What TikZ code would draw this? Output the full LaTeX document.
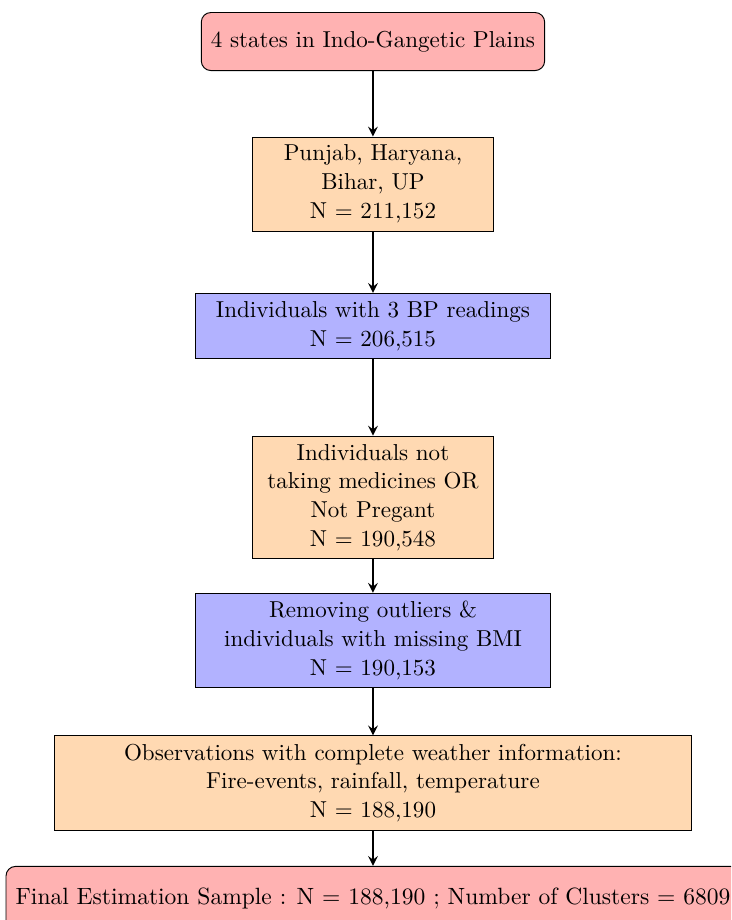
\documentclass[tikz,border=0pt]{standalone}
\usetikzlibrary{shapes,arrows,arrows.meta}
\usetikzlibrary{positioning}
\tikzset{every node/.style={font=\fontsize{9.6}{12}\selectfont},
terminal/.style={rectangle, rounded corners, minimum height=0.85cm, inner sep=4pt, draw=black, fill=red!30},
filterbox/.style={rectangle, draw=black, fill=orange!30, align=center},
checkbox/.style={rectangle, draw=black, fill=blue!30, align=center, minimum width=5.2cm}
}

\begin{document}
\begin{tikzpicture}[> = stealth]
       \clip (-5.461,0) rectangle (5.242,-13.47);
       \node[terminal] (s_0) at (0, -0.608) {4 states in Indo-Gangetic Plains};
       \node[filterbox, minimum width=3.54cm] (s_1) at (0, -2.694) {Punjab, Haryana,\\ Bihar, UP\\ N = 211,152};
       \node[checkbox] (s_2) at (0, -4.773) {Individuals with 3 BP readings\\ N = 206,515};
       \node[filterbox, minimum width=3.54cm] (s_3) at (0, -7.284) {Individuals not\\ taking medicines OR\\ Not Pregant\\ N = 190,548};
       \node[checkbox] (s_4) at (0, -9.378) {Removing outliers \&\\ individuals with missing BMI\\ N = 190,153};
       \node[filterbox, minimum width=9.33cm] (s_5) at (0, -11.464) {Observations with complete weather information:\\ Fire-events, rainfall, temperature\\ N = 188,190};
       \node[terminal, minimum height=0.95cm, font=\fontsize{9.8}{12}\selectfont] (s_6) at (0, -13.16) {Final Estimation Sample : N = 188,190 ; Number of Clusters = 6809};

       \path[->, thick] (s_0) edge (s_1)
           (s_1) edge (s_2)
           (s_2) edge (s_3)
           (s_3) edge (s_4)
           (s_4) edge (s_5)
           (s_5) edge (s_6);
   \end{tikzpicture}
\end{document}
